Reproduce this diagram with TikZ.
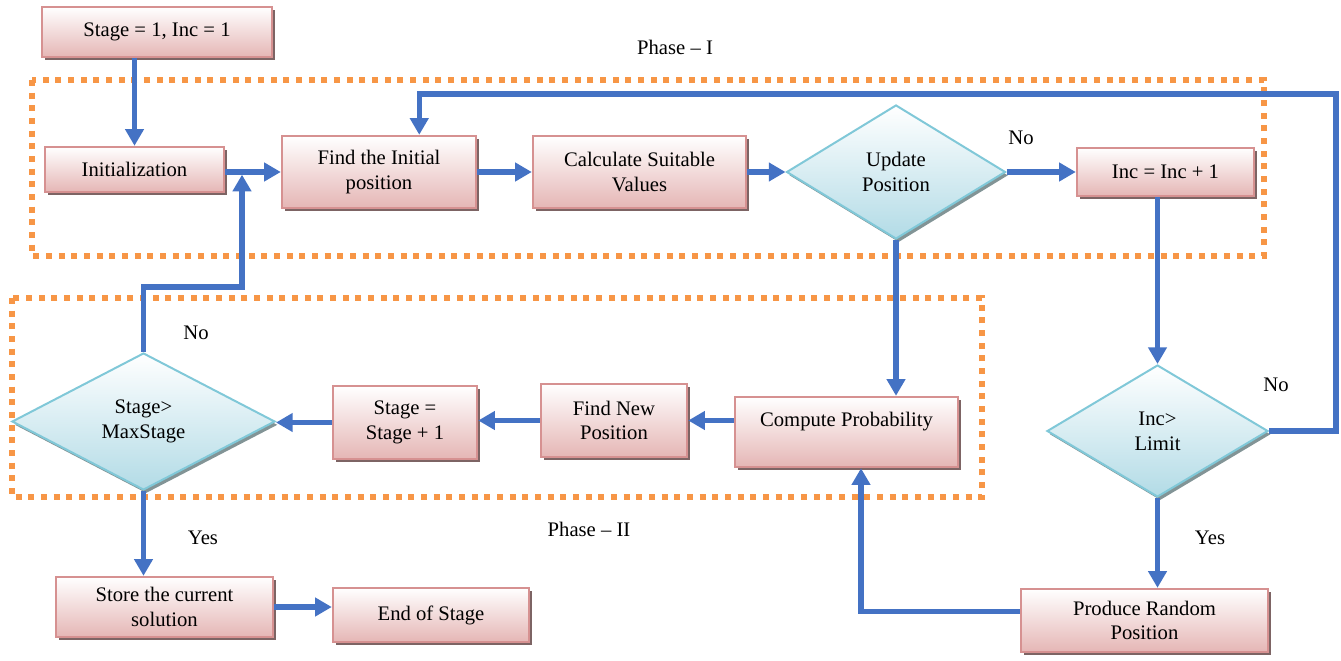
\documentclass[tikz,border=0pt]{standalone}
\usepackage{fontspec}
\setmainfont{Liberation Serif}
\usetikzlibrary{shapes.geometric,arrows.meta,shadows,calc}

\definecolor{flowblue}{RGB}{68,114,196}
\definecolor{boxline}{RGB}{214,145,145}
\definecolor{boxfill}{RGB}{229,182,181}
\definecolor{boxshade}{RGB}{125,100,100}
\definecolor{diamline}{RGB}{128,200,216}
\definecolor{diamfill}{RGB}{178,219,230}
\definecolor{diamshade}{RGB}{130,148,150}
\definecolor{phaseorange}{RGB}{247,150,70}

\tikzset{
  every node/.style={font=\fontsize{15.5pt}{18.5pt}\selectfont},
  procbox/.style={draw=boxline, line width=1.8pt, top color=white, bottom color=boxfill,
    align=center, inner sep=2pt,
    drop shadow={shadow xshift=2.5pt, shadow yshift=-2.5pt, fill=boxshade, opacity=1}},
  decision/.style={diamond, draw=diamline, line width=1.5pt, top color=white, bottom color=diamfill,
    align=center, inner sep=1pt,
    drop shadow={shadow xshift=2pt, shadow yshift=-2.5pt, fill=diamshade, opacity=1}},
  flow/.style={draw=flowblue, line width=4pt, -{Triangle[width=13.5pt,length=12.5pt]}},
  phaseframe/.style={draw=phaseorange, line width=4.5pt, dash pattern=on 4.5pt off 5pt}
}

\begin{document}
\begin{tikzpicture}[x=0.75pt,y=0.75pt,yscale=-1,xscale=1]
\useasboundingbox (0,0) rectangle (1341,660);

% phase frames
\draw[phaseframe] (32,80) rectangle (1264,256);
\draw[phaseframe] (12,298) rectangle (982,497);

% Phase I
\node[procbox, minimum width=172.5pt, minimum height=37.5pt] (start) at (157,32) {Stage = 1, Inc = 1};
\node[procbox, minimum width=134.25pt, minimum height=33.75pt] (init) at (134.5,169.5) {Initialization};
\node[procbox, minimum width=145.5pt, minimum height=54pt] (findpos) at (379,172) {Find the Initial\\position};
\node[procbox, minimum width=159.75pt, minimum height=54pt] (calcval) at (639.5,172) {Calculate Suitable\\Values};
\node[decision, minimum width=164.25pt, minimum height=100.5pt] (update) at (896,172) {Update\\Position};
\node[procbox, minimum width=132.75pt, minimum height=36pt] (incbox) at (1165.5,172) {Inc = Inc + 1};

% right column
\node[decision, minimum width=165.75pt, minimum height=99pt] (limit) at (1157.5,431) {Inc>\\Limit};
\node[procbox, minimum width=185.25pt, minimum height=47.25pt] (randpos) at (1144.5,620.5) {Produce Random\\Position};

% Phase II
\node[procbox, minimum width=167.25pt, minimum height=52.5pt, text height=11pt, text depth=20pt] (prob) at (846.5,432) {Compute Probability};
\node[procbox, minimum width=109.5pt, minimum height=54.75pt] (newpos) at (614,420.5) {Find New\\Position};
\node[procbox, minimum width=108pt, minimum height=54.75pt] (stageinc) at (405,422.5) {Stage =\\Stage + 1};
\node[decision, minimum width=197.25pt, minimum height=102.75pt] (maxstage) at (143.5,421.5) {Stage>\\MaxStage};

% end
\node[procbox, minimum width=162.75pt, minimum height=45pt] (store) at (164.5,607) {Store the current\\solution};
\node[procbox, minimum width=147pt, minimum height=40.5pt] (endstage) at (431,615) {End of Stage};

% bends
\coordinate (loopR) at (1336,94);
\coordinate (jn) at (242,287);

% connectors
\draw[flow] (start.south -| init.north) -- (init.north);
\draw[flow] (init.east |- findpos.west) -- (findpos.west);
\draw[flow] (findpos.east) -- (calcval.west);
\draw[flow] (calcval.east) -- (update.west);
\draw[flow] (update.east) -- (update.east -| incbox.west);
\draw[flow] (update.south) -- (update.south |- prob.north);
\draw[flow] (incbox.south -| limit.north) -- (limit.north);
\draw[flow] (limit.east) -| (loopR) -| ($(findpos.north)!0.41!(findpos.north east)$);
\draw[flow] (limit.south) -- (limit.south |- randpos.north);
\draw[flow] ($(randpos.west)+(0,-9)$) -| ($(prob.south)+(14.5,0)$);
\draw[flow] (prob.west |- newpos.east) -- (newpos.east);
\draw[flow] (newpos.west) -- (newpos.west -| stageinc.east);
\draw[flow] (stageinc.west) -- (stageinc.west -| maxstage.east);
\draw[flow, shorten >=2pt] (maxstage.north) |- (jn) -- (jn |- findpos.west);
\draw[flow] (maxstage.south) -- (maxstage.south |- store.north);
\draw[flow] (store.east) -- (store.east -| endstage.west);

% labels
\node (noupd) at (1021,138) {No};
\node (nolim) at (1276,385) {No};
\node (yeslim) at (1210,538) {Yes};
\node (yesmax) at (203,538) {Yes};
\node (nomax) at (196,333) {No};
\node (phaseone) at (675,47) {Phase -- I};
\node (phasetwo) at (589,529) {Phase -- II};
\end{tikzpicture}
\end{document}
